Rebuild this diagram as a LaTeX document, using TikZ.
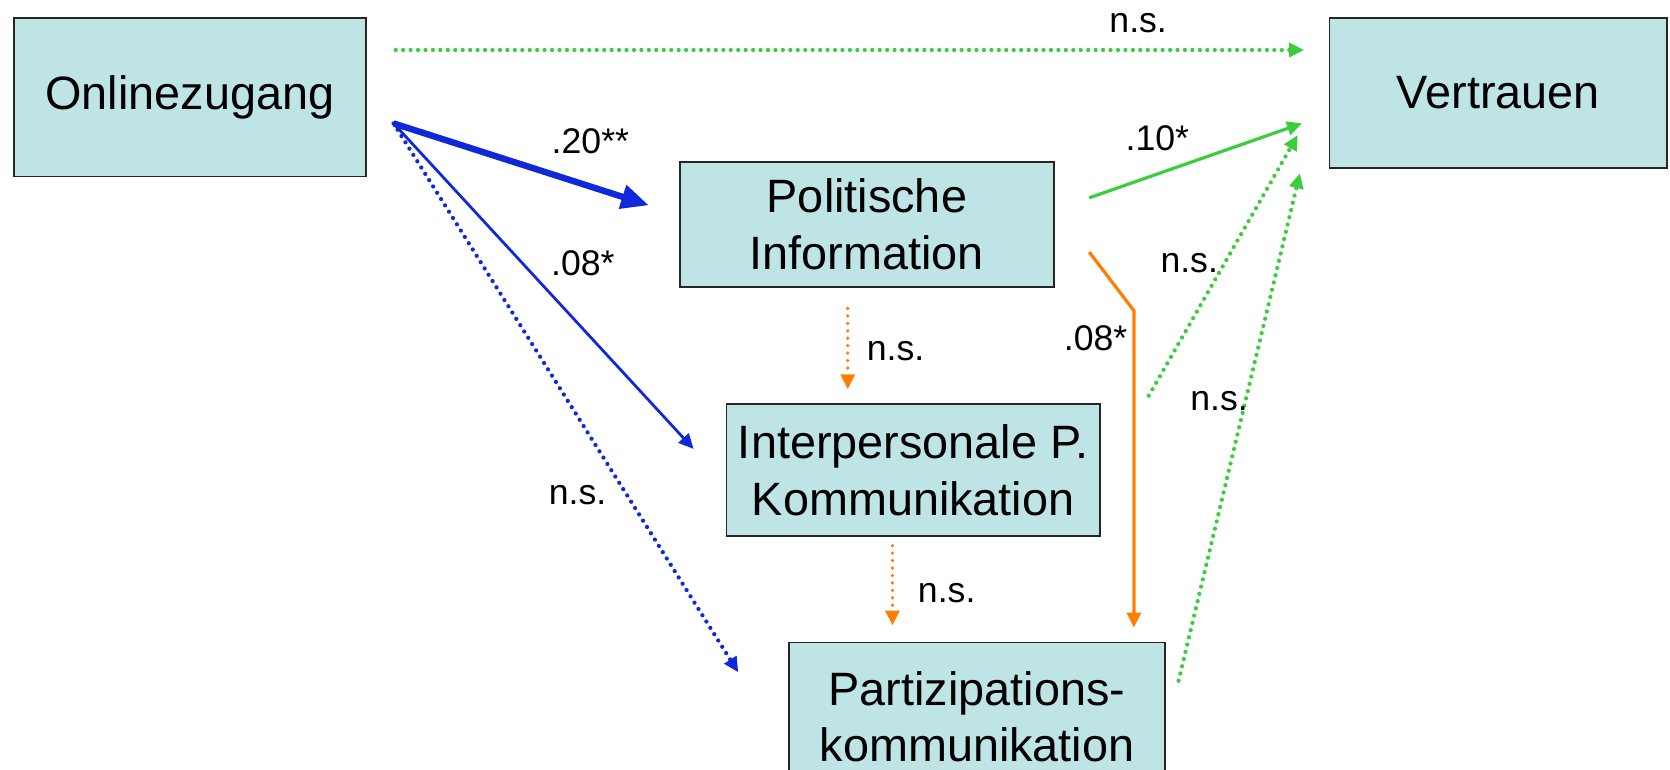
\documentclass[tikz,border=0pt]{standalone}
\usepackage{fontspec}
\setmainfont{Liberation Sans}
\usetikzlibrary{arrows.meta}
\definecolor{boxfill}{RGB}{191,228,230}
\definecolor{cblue}{RGB}{16,40,220}
\definecolor{cgreen}{RGB}{60,205,60}
\definecolor{corange}{RGB}{255,125,0}
\begin{document}
\begin{tikzpicture}[x=1pt,y=-1pt,
  box/.style={draw=black!85,line width=1.6pt,fill=boxfill,inner sep=0pt,align=center,
    font=\fontsize{44}{53}\selectfont},
  lbl/.style={font=\fontsize{33.5}{40}\selectfont,inner sep=0pt},
  tipS/.style={-{Triangle[length=14pt,width=13pt]}},
  tipB/.style={-{Triangle[length=26pt,width=22pt]}},
  dotline/.style={line width=4pt,line cap=round,dash pattern=on 0pt off 7pt},
]
\useasboundingbox (0,0) rectangle (1570,723);
\clip (0,0) rectangle (1570,723);
\fill[white] (0,0) rectangle (1570,723);
% boxes
\node[box,minimum width=331pt,minimum height=149pt] (on) at (178.5,91.5) {Onlinezugang};
\node[box,minimum width=317pt,minimum height=141pt] (ve) at (1408.5,87.5) {Vertrauen};
\node[box,minimum width=352pt,minimum height=118pt] (pi) at (815,211) {Politische\\Information};
\node[box,minimum width=351pt,minimum height=124pt] (ik) at (858.5,442) {Interpersonale P.\\Kommunikation};
\node[box,minimum width=353pt,minimum height=140pt] (pk) at (918.5,674) {Partizipations-\\kommunikation};
% connector end points
\coordinate (onA) at (372,47);
\coordinate (veA) at (1226,47);
\coordinate (onB) at (370,116);
\coordinate (piB) at (610,193);
\coordinate (ikB) at (652,422);
\coordinate (pkB) at (694,632);
\coordinate (piG) at (1024,186);
\coordinate (veG) at (1224,116);
\coordinate (ikG) at (1080,372);
\coordinate (veH) at (1220,127);
\coordinate (pkG) at (1108,640);
\coordinate (veI) at (1222,163);
\coordinate (piO) at (1024,237);
\coordinate (bend) at (1066,292);
\coordinate (pkO) at (1066,590);
\coordinate (piD) at (797,290);
\coordinate (ikD) at (797,366);
\coordinate (ikE) at (839,513);
\coordinate (pkE) at (839,588);
% green
\draw[cgreen,dotline,tipS] (onA) -- (veA);
\draw[cgreen,line width=3pt,tipS] (piG) -- (veG);
\draw[cgreen,dotline,tipS] (ikG) -- (veH);
\draw[cgreen,dotline,tipS] (pkG) -- (veI);
% blue
\draw[cblue,line width=6pt,tipB] (onB) -- (piB);
\draw[cblue,line width=2.6pt,tipS] (onB) -- (ikB);
\draw[cblue,dotline,tipS] (onB) -- (pkB);
% orange
\draw[corange,line width=3pt,tipS] (piO) -- (bend) -- (pkO);
\draw[corange,dotline,line width=3.4pt,tipS] (piD) -- (ikD);
\draw[corange,dotline,line width=3.4pt,tipS] (ikE) -- (pkE);
% labels
\node[lbl] (l1) at (1070,22) {n.s.};
\node[lbl] (l2) at (555,133) {.20**};
\node[lbl] (l3) at (548,247) {.08*};
\node[lbl] (l4) at (543,465) {n.s.};
\node[lbl] (l5) at (1088,130) {.10*};
\node[lbl] (l6) at (1118,247) {n.s.};
\node[lbl] (l7) at (1146,377) {n.s.};
\node[lbl] (l8) at (1030,318) {.08*};
\node[lbl] (l9) at (842,330) {n.s.};
\node[lbl] (l10) at (890,558) {n.s.};
\end{tikzpicture}
\end{document}
